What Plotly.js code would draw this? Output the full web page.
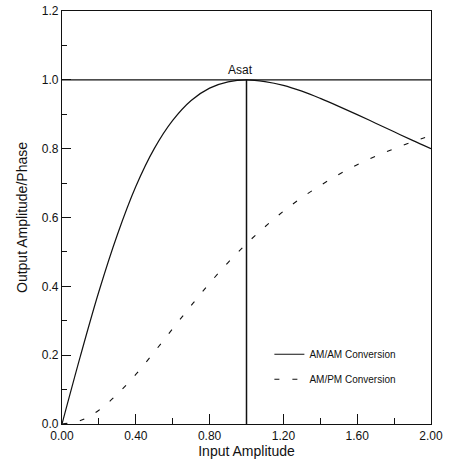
<!DOCTYPE html>
<html>
<head>
<meta charset="utf-8">
<script src="https://cdn.plot.ly/plotly-3.0.1.min.js"></script>
<style>html,body{margin:0;padding:0;background:#fff;}#chart{width:450px;height:467px;}</style>
</head>
<body>
<div id="chart"></div>
<script>
const inputAmp = [0, 0.1, 0.2, 0.3, 0.4, 0.5, 0.6, 0.7, 0.8, 0.9, 1.0, 1.1, 1.2, 1.3, 1.4, 1.5, 1.6, 1.7, 1.8, 1.9, 2.0];
const amamOut = [0, 0.198, 0.385, 0.550, 0.690, 0.800, 0.882, 0.940, 0.976, 0.994, 1.0, 0.995, 0.984, 0.967, 0.946, 0.923, 0.899, 0.874, 0.849, 0.824, 0.800];
const ampmOut = [0, 0.010, 0.040, 0.087, 0.144, 0.209, 0.277, 0.344, 0.409, 0.469, 0.524, 0.573, 0.618, 0.658, 0.693, 0.725, 0.753, 0.778, 0.800, 0.820, 0.838];
const seriesNames = ["AM/AM Conversion", "AM/PM Conversion"];
const asatX = 1.0;
const asatY = 1.0;
const xTickVals = [0, 0.4, 0.8, 1.2, 1.6, 2.0];
const xTickText = ["0.00", "0.40", "0.80", "1.20", "1.60", "2.00"];
const yTickVals = [0, 0.2, 0.4, 0.6, 0.8, 1.0, 1.2];
const yTickText = ["0.0", "0.2", "0.4", "0.6", "0.8", "1.0", "1.2"];

const font = "Liberation Sans, Arial, sans-serif";
const traces = [
  {x: inputAmp, y: amamOut, name: seriesNames[0], mode: "lines", line: {color: "#111", width: 1.2, shape: "spline"}, legendgroup: "a"},
  {x: inputAmp, y: ampmOut, name: seriesNames[1], mode: "lines", line: {color: "#111", width: 1.1, dash: "5px,13px", shape: "spline"}, legendgroup: "b"}
];
const layout = {
  width: 450, height: 467,
  margin: {l: 62, r: 19, t: 11, b: 43},
  paper_bgcolor: "#fff", plot_bgcolor: "#fff",
  font: {family: font, color: "#111", size: 12},
  showlegend: true,
  legend: {x: 0.562, y: 0.204, xanchor: "left", yanchor: "top", bgcolor: "rgba(0,0,0,0)", font: {size: 10}, tracegroupgap: 6, itemwidth: 30},
  xaxis: {range: [0, 2], tickvals: xTickVals, ticktext: xTickText, ticks: "inside", ticklen: 10, tickcolor: "#111",
    minor: {dtick: 0.2, ticks: "inside", ticklen: 6, tickcolor: "#111"},
    showgrid: false, zeroline: false, showline: true, linecolor: "#111", linewidth: 1.2, mirror: true,
    title: {text: "Input Amplitude", font: {size: 14}, standoff: 2}, tickfont: {size: 12}},
  yaxis: {range: [0, 1.2], tickvals: yTickVals, ticktext: yTickText, ticks: "inside", ticklen: 9, tickcolor: "#111",
    minor: {dtick: 0.1, ticks: "inside", ticklen: 5, tickcolor: "#111"},
    showgrid: false, zeroline: false, showline: true, linecolor: "#111", linewidth: 1.2, mirror: true,
    title: {text: "Output Amplitude/Phase", font: {size: 14}, standoff: 10}, tickfont: {size: 12}},
  shapes: [
    {type: "line", xref: "x", yref: "y", x0: 0, x1: 2, y0: asatY, y1: asatY, line: {color: "#111", width: 1.2}},
    {type: "line", xref: "x", yref: "y", x0: asatX, x1: asatX, y0: 0, y1: asatY, line: {color: "#111", width: 1.5}}
  ],
  annotations: [
    {x: asatX - 0.03, y: asatY, xref: "x", yref: "y", text: "Asat", showarrow: false, yanchor: "bottom", yshift: 1, font: {size: 12}}
  ]
};
Plotly.newPlot("chart", traces, layout, {displayModeBar: false, staticPlot: true});
</script>
</body>
</html>
